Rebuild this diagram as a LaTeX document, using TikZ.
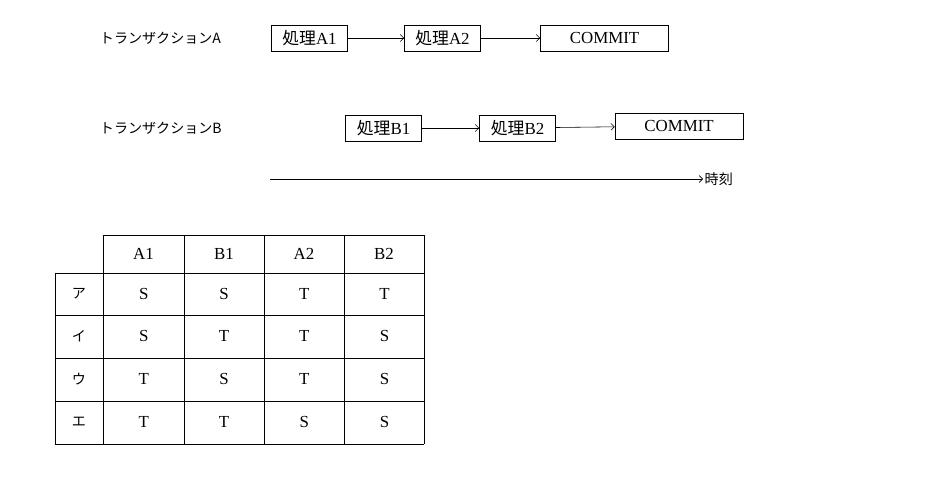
\documentclass[tikz,border=0pt]{standalone}
\usepackage{fontspec}
\setmainfont{Liberation Serif}
\newfontfamily\jp{Noto Sans CJK JP}
\usetikzlibrary{arrows}

\begin{document}
\begin{tikzpicture}[x=0.025cm,y=-0.025cm,>=angle 90,
  step box/.style={draw,minimum height=0.65cm,inner sep=1pt,font=\large},
  cell/.style={font=\large}]
  \useasboundingbox (0,0) rectangle (936,478);
  % transactions
  \node[anchor=west,font=\jp] (ta) at (95,38)  {トランザクションA};
  \node[anchor=west,font=\jp] (tb) at (95,128) {トランザクションB};
  \node[step box,minimum width=1.9cm] (a1) at (309.5,38)  {{\jp 処理}A1};
  \node[step box,minimum width=1.9cm] (a2) at (442.5,38)  {{\jp 処理}A2};
  \node[step box,minimum width=3.2cm] (ac) at (604.5,38)  {COMMIT};
  \node[step box,minimum width=1.9cm] (b1) at (383.5,128) {{\jp 処理}B1};
  \node[step box,minimum width=1.9cm] (b2) at (517.5,128) {{\jp 処理}B2};
  \node[step box,minimum width=3.2cm] (bc) at (679,126)   {COMMIT};
  \path[->]
    (a1) edge (a2)
    (a2) edge (ac)
    (b1) edge (b2)
    (b2) edge (bc);
  % time axis
  \coordinate (t0) at (270,179);
  \node[anchor=west,inner sep=1pt,font=\jp] (tt) at (703,179) {時刻};
  \draw[->] (t0) -- (tt);
  % table
  \draw (103,235) -- (424,235);
  \draw (55,273) -- (424,273);
  \foreach \y in {315,358,401,444} \draw (55,\y) -- (424,\y);
  \draw (55,273) -- (55,444);
  \foreach \x in {103,184,264,344,424} \draw (\x,235) -- (\x,444);
  \node[cell] (h1) at (143.5,254) {A1};
  \node[cell] (h2) at (224,254)   {B1};
  \node[cell] (h3) at (304,254)   {A2};
  \node[cell] (h4) at (384,254)   {B2};
  \node[cell,font=\jp] (r1) at (79,294) {ア};
  \node[cell,font=\jp] (r2) at (79,336) {イ};
  \node[cell,font=\jp] (r3) at (79,379) {ウ};
  \node[cell,font=\jp] (r4) at (79,422) {エ};
  \foreach \v [count=\i] in {S,S,T,T} \node[cell] at (63.5+80.25*\i,294) {\v};
  \foreach \v [count=\i] in {S,T,T,S} \node[cell] at (63.5+80.25*\i,336) {\v};
  \foreach \v [count=\i] in {T,S,T,S} \node[cell] at (63.5+80.25*\i,379) {\v};
  \foreach \v [count=\i] in {T,T,S,S} \node[cell] at (63.5+80.25*\i,422) {\v};
\end{tikzpicture}
\end{document}
